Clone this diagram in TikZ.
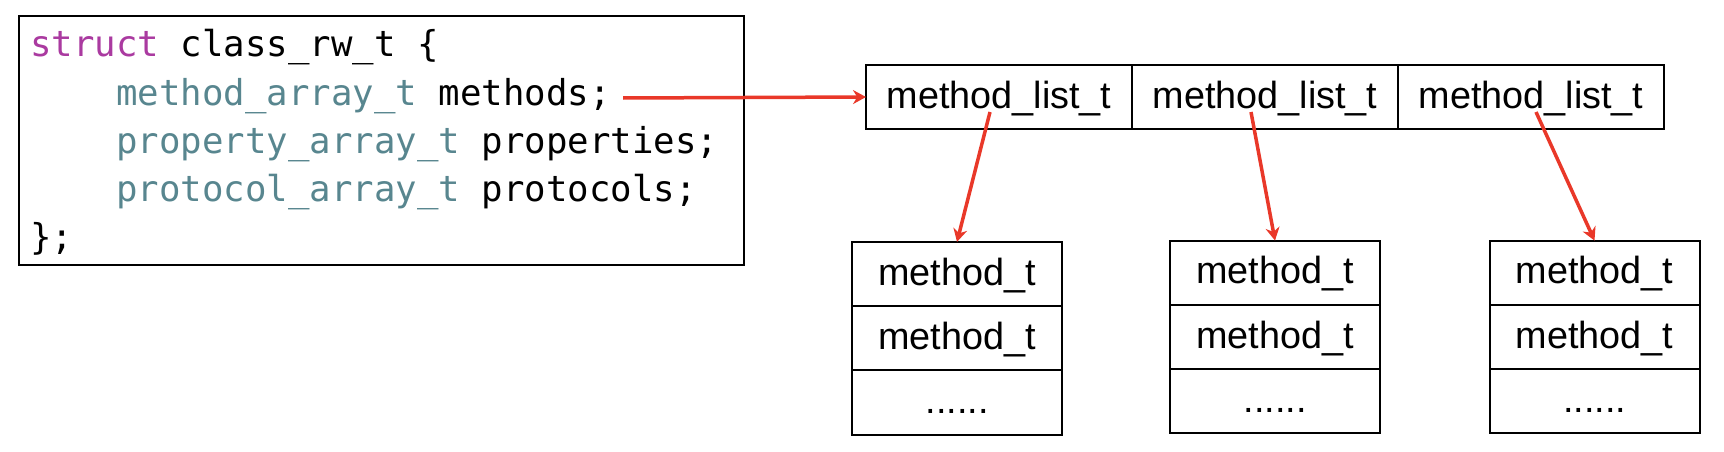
\documentclass[tikz,border=0pt]{standalone}
\usepackage{fontspec}
\setmainfont{Liberation Sans}
\newfontfamily\codefont{DejaVu Sans Mono}
\usetikzlibrary{arrows.meta,positioning}
\definecolor{kwcol}{RGB}{170,58,160}
\definecolor{tycol}{RGB}{88,134,143}
\definecolor{arrred}{RGB}{233,56,41}
\begin{document}
\begin{tikzpicture}[x=1pt,y=-1pt,
  codeline/.style={anchor=base west, inner sep=0pt, font=\codefont\fontsize{35.7pt}{48pt}\selectfont},
  cell/.style={draw, line width=2pt, inner sep=0pt, outer sep=0pt, text height=27pt, text depth=5pt, font=\fontsize{37.8pt}{45pt}\selectfont},
  listcell/.style={cell, minimum width=266pt, minimum height=64pt},
  mcell/.style={cell, minimum width=210pt, minimum height=64.3pt},
  ptr/.style={draw=arrred, line width=3.5pt, -{Stealth[length=13pt,width=14pt]}}]
\useasboundingbox (0,0) rectangle (1724,452);
% code box
\node[draw, line width=2pt, minimum width=725.5pt, minimum height=248.5pt, anchor=north west, inner sep=0pt, outer sep=0pt] (code) at (18.5,16.5) {};
\node[codeline] (l1) at (30,57) {\textcolor{kwcol}{struct} class\_rw\_t \{};
\node[codeline] (l2) at (116,105) {\textcolor{tycol}{method\_array\_t} methods;};
\node[codeline] (l3) at (116,153) {\textcolor{tycol}{property\_array\_t} properties;};
\node[codeline] (l4) at (116,201.5) {\textcolor{tycol}{protocol\_array\_t} protocols;};
\node[codeline] (l5) at (30,249) {\};};
% method list row
\node[listcell] (c1) at (999,97) {method\_list\_t};
\node[listcell] (c2) at (1265,97) {method\_list\_t};
\node[listcell] (c3) at (1531,97) {method\_list\_t};
% method boxes
\node[mcell] (a1) at (957,274) {method\_t};
\node[mcell, below=0pt of a1] (b1) {method\_t};
\node[mcell, below=0pt of b1] (d1) {......};
\node[mcell] (a2) at (1275,272.7) {method\_t};
\node[mcell, below=0pt of a2] (b2) {method\_t};
\node[mcell, below=0pt of b2] (d2) {......};
\node[mcell] (a3) at (1594.5,272.7) {method\_t};
\node[mcell, below=0pt of a3] (b3) {method\_t};
\node[mcell, below=0pt of b3] (d3) {......};
% arrows
\coordinate (s0) at (623,98);
\coordinate (s1) at ([shift={(-9,15)}]c1.center);
\coordinate (s2) at ([shift={(-14,15)}]c2.center);
\coordinate (s3) at ([shift={(5,15)}]c3.center);
\draw[ptr] (s0) -- (c1.west);
\draw[ptr] (s1) -- (a1.north);
\draw[ptr] (s2) -- (a2.north);
\draw[ptr] (s3) -- (a3.north);
\end{tikzpicture}
\end{document}
